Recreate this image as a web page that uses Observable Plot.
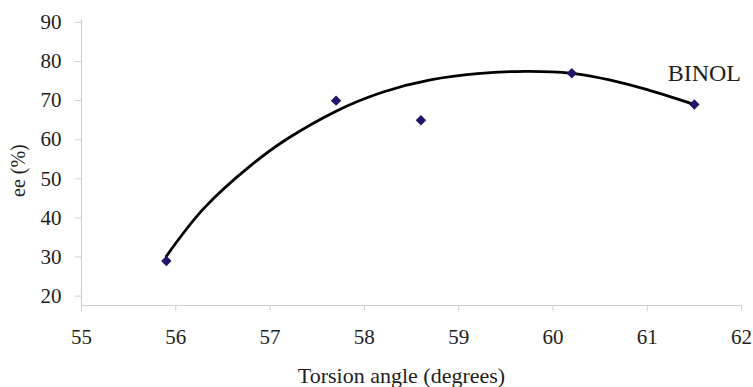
<!DOCTYPE html>
<html>
<head>
<meta charset="utf-8">
<script src="https://cdn.jsdelivr.net/npm/d3@7"></script>
<script src="https://cdn.jsdelivr.net/npm/@observablehq/plot@0.6"></script>
<style>
  html, body { margin: 0; padding: 0; background: #fff; }
</style>
</head>
<body>
<div id="chart"></div>
<script>
// Measured points
const torsion = [55.9, 57.7, 58.6, 60.2, 61.5];
const ee = [29, 70, 65, 77, 69];
// Trend curve
const curveX = [55.9, 56.3, 56.8, 57.2, 57.7, 58.2, 58.7, 59.2, 59.7, 60.2, 60.6, 61.0, 61.5];
const curveY = [30.2, 42.5, 53.5, 60.5, 67.3, 72.2, 75.3, 76.9, 77.5, 77.0, 75.3, 72.8, 69.0];
// Axes
const xTicks = [55, 56, 57, 58, 59, 60, 61, 62];
const yTicks = [20, 30, 40, 50, 60, 70, 80, 90];
const xDomain = [55, 62];
const yDomain = [17.6, 90.5];
const xTitle = "Torsion angle (degrees)";
const yTitle = "ee (%)";
const pointLabel = "BINOL";

const points = torsion.map((x, i) => ({x, y: ee[i]}));
const curve = curveX.map((x, i) => ({x, y: curveY[i]}));
const labelRow = [{x: torsion[torsion.length - 1], y: ee[ee.length - 1], text: pointLabel}];

const axisGray = "#cfcfcf";
const textCol = "#1e1e1e";
const fmt = d => String(d);

const chart = Plot.plot({
  width: 753,
  height: 387,
  marginLeft: 81,
  marginRight: 12,
  marginTop: 20,
  marginBottom: 82,
  style: {fontFamily: "'Liberation Serif', 'DejaVu Serif', serif", fontSize: "21px", color: textCol, background: "#fff"},
  x: {domain: xDomain},
  y: {domain: yDomain},
  marks: [
    Plot.ruleY([yDomain[0]], {stroke: axisGray, strokeWidth: 1.2}),
    Plot.ruleX([xDomain[0]], {stroke: axisGray, strokeWidth: 1.2}),
    Plot.axisX({ticks: xTicks, tickFormat: fmt, tickSize: 6, tickPadding: 18, label: null, stroke: axisGray, fill: textCol, fontSize: 21}),
    Plot.axisY({ticks: yTicks, tickFormat: fmt, tickSize: 6, tickPadding: 14, label: null, stroke: axisGray, fill: textCol, fontSize: 21}),
    Plot.line(curve, {x: "x", y: "y", curve: "natural", stroke: "#000", strokeWidth: 2.8}),
    Plot.dot(points, {x: "x", y: "y", symbol: "diamond2", r: 4.7, fill: "#20176b", stroke: "none"}),
    Plot.text(labelRow, {x: "x", y: "y", text: "text", dx: 10, dy: -31, fontSize: 24, fill: textCol}),
    Plot.text([xTitle], {frameAnchor: "bottom", dx: -10, dy: 70, lineAnchor: "middle", fontSize: 22, fill: textCol}),
    Plot.text([yTitle], {frameAnchor: "left", dx: -63, dy: 34, rotate: -90, lineAnchor: "middle", fontSize: 20, fill: textCol})
  ]
});
document.getElementById("chart").appendChild(chart);
</script>
</body>
</html>
